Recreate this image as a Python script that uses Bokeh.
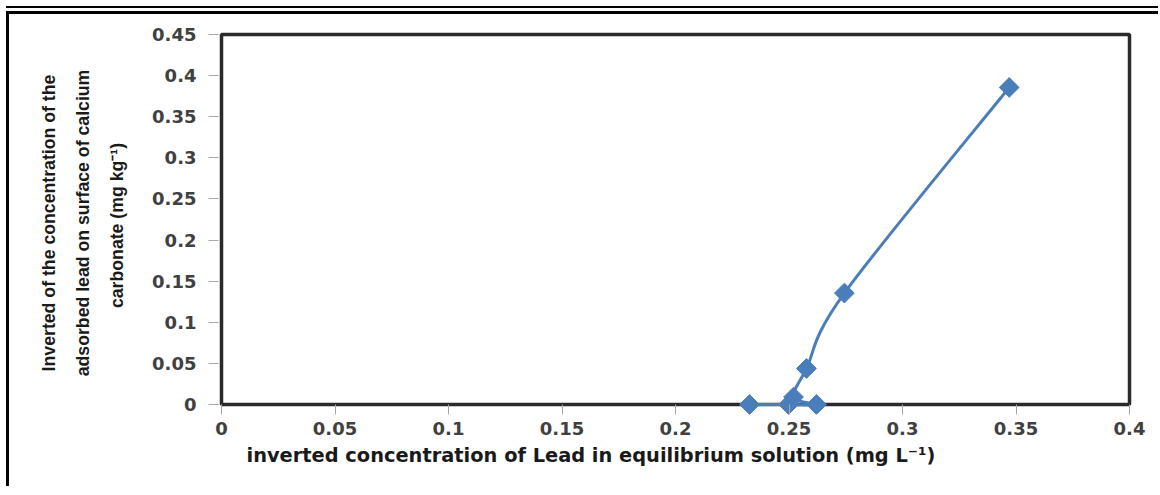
import numpy as np
from bokeh.plotting import figure
from bokeh.models import Range1d, FixedTicker, Title
from bokeh.embed import file_html
from bokeh.resources import INLINE

# ---- data ----
x_values = [0.2326, 0.2498, 0.2621, 0.2520, 0.2577, 0.2744, 0.3470]
y_values = [0.0, 0.0, 0.0, 0.009, 0.0438, 0.1355, 0.3856]

x_ticks = [0, 0.05, 0.1, 0.15, 0.2, 0.25, 0.3, 0.35, 0.4]
x_tick_labels = ["0", "0.05", "0.1", "0.15", "0.2", "0.25", "0.3", "0.35", "0.4"]
y_ticks = [0, 0.05, 0.1, 0.15, 0.2, 0.25, 0.3, 0.35, 0.4, 0.45]
y_tick_labels = ["0", "0.05", "0.1", "0.15", "0.2", "0.25", "0.3", "0.35", "0.4", "0.45"]

x_title = "inverted concentration of Lead in equilibrium solution (mg L\u207b\u00b9)"
y_title = ("Inverted of the concentration of the\n"
           "adsorbed lead on surface of calcium\n"
           "carbonate  (mg kg\u207b\u00b9)")

x_min, x_max = 0.0, 0.4
y_min, y_max = 0.0, 0.45

BLUE = "#4a7ebb"

# ---- layout in pixels ----
data_w, data_h = 908, 370
pad_l, pad_r, pad_t, pad_b = 3, 3, 3, 10
fw, fh = data_w + pad_l + pad_r, data_h + pad_t + pad_b
xs_per_px = (x_max - x_min) / data_w
ys_per_px = (y_max - y_min) / data_h

p = figure(
    frame_width=fw, frame_height=fh,
    min_border_left=209, min_border_right=26,
    min_border_top=17, min_border_bottom=72,
    x_range=Range1d(x_min - pad_l * xs_per_px, x_max + pad_r * xs_per_px),
    y_range=Range1d(y_min - pad_b * ys_per_px, y_max + pad_t * ys_per_px),
    output_backend="svg", toolbar_location=None,
)
p.styles = {
    "margin-left": "6px",
    "margin-top": "11px",
    "border-left": "3px solid #000000",
    "border-top": "3px solid #000000",
    "box-shadow": "0 -3px 0 0 #ffffff, 0 -5px 0 0 #000000",
}
p.outline_line_color = None
p.xgrid.visible = False
p.ygrid.visible = False
p.background_fill_color = "white"
p.border_fill_color = "white"

# plot-area box drawn on the data extent
p.quad(left=[x_min], right=[x_max], bottom=[y_min], top=[y_max],
       fill_color=None, line_color="#2a2a2a", line_width=3.5)

# ---- smoothed line (Catmull-Rom style bezier, as Excel "smoothed line") ----
xs = np.array(x_values)
ys = np.array(y_values)
n = len(xs)
pxs = np.concatenate([[xs[0]], xs, [xs[-1]]])
pys = np.concatenate([[ys[0]], ys, [ys[-1]]])
t = 1.0 / 6.0
cx0 = xs[:-1] + (pxs[2:n + 1] - pxs[0:n - 1]) * t
cy0 = ys[:-1] + (pys[2:n + 1] - pys[0:n - 1]) * t
cx1 = xs[1:] - (pxs[3:n + 2] - pxs[1:n]) * t
cy1 = ys[1:] - (pys[3:n + 2] - pys[1:n]) * t
p.bezier(x0=xs[:-1], y0=ys[:-1], x1=xs[1:], y1=ys[1:],
         cx0=cx0, cy0=cy0, cx1=cx1, cy1=cy1,
         line_color=BLUE, line_width=3)

p.scatter(x_values, y_values, marker="square", angle=np.pi / 4, size=14,
          fill_color=BLUE, line_color=BLUE)

# ---- axes ----
p.xaxis.ticker = FixedTicker(ticks=x_ticks)
p.yaxis.ticker = FixedTicker(ticks=y_ticks)
p.xaxis.major_label_overrides = {v: s for v, s in zip(x_ticks, x_tick_labels)}
p.yaxis.major_label_overrides = {v: s for v, s in zip(y_ticks, y_tick_labels)}

for ax in (p.xaxis, p.yaxis):
    ax.axis_line_color = None
    ax.minor_tick_line_color = None
    ax.major_tick_line_color = "#a6a6a6"
    ax.major_tick_line_width = 1
    ax.major_label_text_font = "DejaVu Sans"
    ax.major_label_text_font_style = "bold"
    ax.major_label_text_font_size = "18px"
    ax.major_label_text_color = "#404040"

p.yaxis.major_tick_out = 10
p.yaxis.major_tick_in = 0
p.yaxis.major_label_standoff = 12
p.xaxis.major_tick_in = pad_b
p.xaxis.major_tick_out = 0
p.xaxis.major_label_standoff = 7

p.yaxis.axis_label = y_title
p.yaxis.axis_label_text_font = "Liberation Sans"
p.yaxis.axis_label_text_font_style = "bold"
p.yaxis.axis_label_text_font_size = "17.7px"
p.yaxis.axis_label_text_line_height = 1.7
p.yaxis.axis_label_text_color = "#1a1a1a"
p.yaxis.axis_label_standoff = 22

xt = Title(text=x_title, align="left", offset=28,
           text_font="DejaVu Sans", text_font_style="bold",
           text_font_size="19.4px", text_color="#1a1a1a", standoff=8)
p.add_layout(xt, "below")

open("out.html", "w").write(file_html(p, INLINE))
